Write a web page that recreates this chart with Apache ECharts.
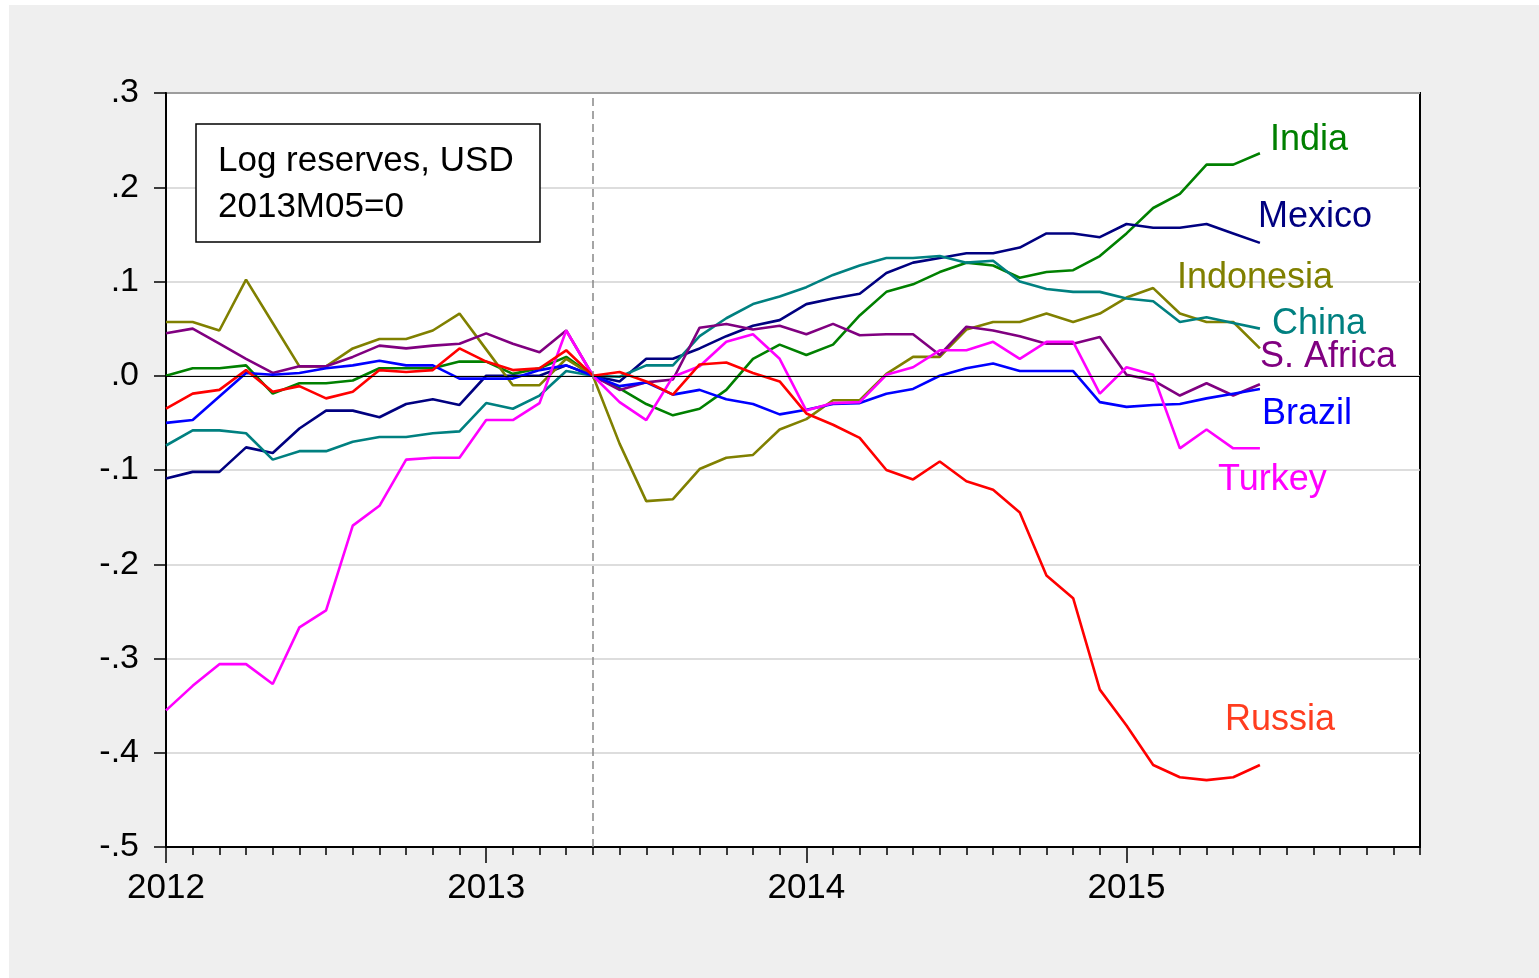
<!DOCTYPE html>
<html>
<head>
<meta charset="utf-8">
<title>Log reserves, USD</title>
<script src="https://cdn.jsdelivr.net/npm/echarts@6/dist/echarts.min.js"></script>
<style>
  html, body { margin: 0; padding: 0; background: #ffffff; }
  #main { position: absolute; left: 9px; top: 5px; width: 1530px; height: 973px; background: #efefef; }
</style>
</head>
<body>
<div id="main"></div>
<script>
// 月份 2012M01 - 2015M12
const months = [];
for (let y = 2012; y <= 2015; y++) {
  for (let m = 1; m <= 12; m++) {
    months.push(y + 'M' + (m < 10 ? '0' + m : m));
  }
}

// 各国外汇储备（对数，2013M05 = 0），2012M01 - 2015M06
const india = [0, 0.008, 0.008, 0.011, -0.019, -0.008, -0.008, -0.005, 0.008, 0.008, 0.008, 0.015, 0.015, 0.002, 0.008, 0.020, 0,
  -0.0135, -0.030, -0.042, -0.035, -0.015, 0.018, 0.033, 0.022, 0.033, 0.064, 0.089, 0.097, 0.110, 0.120, 0.117,
  0.104, 0.110, 0.112, 0.127, 0.151, 0.178, 0.193, 0.224, 0.224, 0.236];
const mexico = [-0.109, -0.102, -0.102, -0.076, -0.082, -0.056, -0.037, -0.037, -0.044, -0.030, -0.025, -0.031, 0, 0, 0, 0.011, 0,
  -0.006, 0.018, 0.018, 0.029, 0.042, 0.053, 0.059, 0.076, 0.082, 0.087, 0.109, 0.120, 0.125, 0.130, 0.130,
  0.136, 0.151, 0.151, 0.147, 0.161, 0.157, 0.157, 0.161, 0.151, 0.141];
const indonesia = [0.057, 0.057, 0.048, 0.102, 0.056, 0.010, 0.010, 0.029, 0.039, 0.039, 0.048, 0.066, 0.028, -0.010, -0.010, 0.018, 0,
  -0.072, -0.133, -0.131, -0.099, -0.087, -0.084, -0.057, -0.046, -0.026, -0.026, 0.002, 0.020, 0.020, 0.049, 0.057,
  0.057, 0.066, 0.057, 0.066, 0.083, 0.093, 0.066, 0.057, 0.057, 0.029];
const china = [-0.074, -0.058, -0.058, -0.061, -0.089, -0.080, -0.080, -0.070, -0.065, -0.065, -0.061, -0.059, -0.029, -0.035, -0.021, 0.005, 0,
  -0.001, 0.011, 0.011, 0.042, 0.061, 0.076, 0.084, 0.094, 0.107, 0.117, 0.125, 0.125, 0.127, 0.120, 0.122,
  0.100, 0.092, 0.089, 0.089, 0.082, 0.079, 0.057, 0.062, 0.056, 0.050];
const sAfrica = [0.045, 0.050, 0.034, 0.018, 0.003, 0.010, 0.010, 0.020, 0.032, 0.029, 0.032, 0.034, 0.045, 0.034, 0.025, 0.048, 0,
  -0.015, -0.007, -0.004, 0.051, 0.055, 0.049, 0.053, 0.044, 0.055, 0.043, 0.044, 0.044, 0.022, 0.052, 0.048,
  0.042, 0.034, 0.034, 0.041, 0.001, -0.005, -0.021, -0.008, -0.021, -0.009];
const brazil = [-0.050, -0.047, -0.022, 0.003, 0.001, 0.003, 0.008, 0.011, 0.016, 0.011, 0.011, -0.003, -0.003, -0.003, 0.006, 0.011, 0,
  -0.011, -0.007, -0.020, -0.015, -0.025, -0.030, -0.041, -0.036, -0.030, -0.029, -0.019, -0.014, 0, 0.008, 0.013,
  0.005, 0.005, 0.005, -0.028, -0.033, -0.031, -0.030, -0.024, -0.019, -0.014];
const turkey = [-0.355, -0.329, -0.306, -0.306, -0.327, -0.267, -0.249, -0.159, -0.138, -0.089, -0.087, -0.087, -0.047, -0.047, -0.029, 0.048, 0,
  -0.028, -0.047, -0.001, 0.010, 0.036, 0.044, 0.018, -0.037, -0.029, -0.028, 0.001, 0.009, 0.027, 0.027, 0.036,
  0.018, 0.036, 0.036, -0.019, 0.009, 0.001, -0.077, -0.057, -0.077, -0.077];
const russia = [-0.035, -0.019, -0.015, 0.006, -0.017, -0.011, -0.024, -0.017, 0.006, 0.004, 0.006, 0.029, 0.015, 0.006, 0.008, 0.027, 0,
  0.004, -0.006, -0.020, 0.012, 0.014, 0.003, -0.006, -0.040, -0.052, -0.066, -0.100, -0.110, -0.091, -0.112, -0.121,
  -0.145, -0.212, -0.236, -0.333, -0.371, -0.413, -0.426, -0.429, -0.426, -0.413];

const seriesNames = ['India', 'Mexico', 'Indonesia', 'China', 'S. Africa', 'Brazil', 'Turkey', 'Russia'];
const seriesData = [india, mexico, indonesia, china, sAfrica, brazil, turkey, russia];
const seriesColors = ['#008000', '#000080', '#808000', '#008080', '#800080', '#0000ff', '#ff00ff', '#ff0000'];

const FONT = '"Liberation Sans", Arial, sans-serif';

// 右侧国家名称标注（像素位置）
const labelPos = [
  [1261, 135], [1249, 212], [1168, 273], [1263, 319],
  [1251, 352], [1253, 409], [1209, 475], [1216, 715]
];
const labelColors = ['#008000', '#000080', '#808000', '#008080', '#800080', '#0000ff', '#ff00ff', '#ff3d1f'];

const myChart = echarts.init(document.getElementById('main'));

const series = seriesNames.map((name, i) => ({
  name: name,
  type: 'line',
  xAxisIndex: 0,
  data: seriesData[i],
  symbol: 'none',
  lineStyle: { color: seriesColors[i], width: 2.6 },
  itemStyle: { color: seriesColors[i] },
  z: 3
}));

// 零线和 2013M05 虚线
series[0].markLine = {
  silent: true,
  symbol: 'none',
  label: { show: false },
  data: [
    { yAxis: 0, lineStyle: { color: '#000', width: 1.2, type: 'solid' } },
    { xAxis: '2013M05', lineStyle: { color: '#888', width: 1.5, type: [8, 5] } }
  ]
};

const graphic = [
  {
    type: 'rect',
    shape: { x: 187, y: 119, width: 344, height: 118 },
    style: { fill: '#fff', stroke: '#000', lineWidth: 1.5 },
    z: 10
  },
  {
    type: 'text',
    x: 209, y: 156,
    style: { text: 'Log reserves, USD', font: '35px ' + FONT, fill: '#000', verticalAlign: 'middle' },
    z: 11
  },
  {
    type: 'text',
    x: 209, y: 202,
    style: { text: '2013M05=0', font: '35px ' + FONT, fill: '#000', verticalAlign: 'middle' },
    z: 11
  }
].concat(seriesNames.map((name, i) => ({
  type: 'text',
  x: labelPos[i][0],
  y: labelPos[i][1],
  style: { text: name, font: '36px ' + FONT, fill: labelColors[i], verticalAlign: 'middle' },
  z: 11
})));

myChart.setOption({
  animation: false,
  backgroundColor: '#efefef',
  grid: {
    left: 157, top: 88, right: 119, bottom: 131,
    show: true,
    backgroundColor: '#fff',
    borderColor: '#000',
    borderWidth: 2
  },
  xAxis: [
    {
      type: 'category',
      data: months,
      boundaryGap: false,
      position: 'bottom',
      axisLine: { onZero: false, lineStyle: { color: '#000', width: 2 } },
      axisTick: { interval: 0, length: 8, lineStyle: { color: '#000', width: 1.5 } },
      axisLabel: {
        interval: (idx) => idx % 12 === 0,
        formatter: (v) => v.slice(0, 4),
        color: '#000',
        fontSize: 35,
        fontFamily: FONT,
        margin: 24
      },
      splitLine: { show: false }
    },
    {
      // 年份处的长刻度
      type: 'category',
      data: months,
      boundaryGap: false,
      position: 'bottom',
      axisLine: { show: false, onZero: false },
      axisTick: { interval: (idx) => idx % 12 === 0, length: 16, lineStyle: { color: '#000', width: 1.5 } },
      axisLabel: { show: false },
      splitLine: { show: false }
    }
  ],
  yAxis: {
    type: 'value',
    min: -0.5,
    max: 0.3,
    interval: 0.1,
    axisLine: { show: true, lineStyle: { color: '#000', width: 2 } },
    axisTick: { show: true, length: 12, lineStyle: { color: '#000', width: 1.5 } },
    axisLabel: {
      formatter: (v) => v.toFixed(1).replace('0.', '.'),
      color: '#000',
      fontSize: 34,
      fontFamily: FONT,
      margin: 27
    },
    splitLine: { lineStyle: { color: '#d2d2d2', width: 1.5 } }
  },
  graphic: graphic,
  series: series
});
</script>
</body>
</html>
